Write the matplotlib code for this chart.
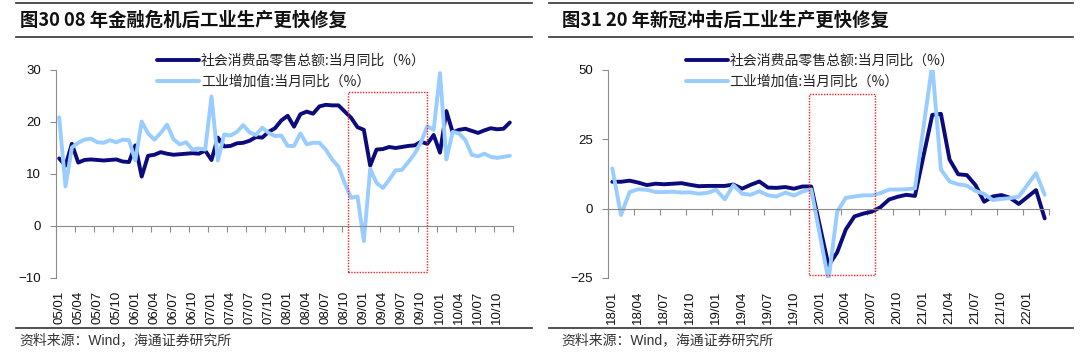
import numpy as np
import matplotlib
matplotlib.use('Agg')
import matplotlib.pyplot as plt
from matplotlib.patches import Rectangle
from matplotlib.lines import Line2D

plt.rcParams['font.family'] = ['Liberation Sans', 'Noto Sans CJK SC']

nan = np.nan

# fig 30: monthly 2005/01 - 2010/12, % yoy
left_retail = [13.0, 11.6, 15.8, 12.2, 12.7, 12.8, 12.7, 12.6, 12.7, 12.8, 12.4, 12.3,
               15.5, 9.5, 13.5, 13.7, 14.2, 13.9, 13.7, 13.8, 13.9, 14.0, 13.9, 14.5,
               12.7, 17.0, 15.3, 15.4, 15.9, 16.0, 16.4, 17.1, 17.0, 18.1, 18.8, 20.3,
               21.2, 19.1, 21.5, 22.0, 21.6, 23.0, 23.3, 23.2, 23.2, 22.0, 20.8, 19.0,
               18.5, 11.6, 14.7, 14.8, 15.2, 15.0, 15.2, 15.4, 15.5, 16.2, 15.8, 17.5,
               14.1, 22.1, 18.0, 18.5, 18.7, 18.3, 17.9, 18.4, 18.8, 18.6, 18.7, 19.9]
left_iva = [20.9, 7.6, 15.1, 16.0, 16.6, 16.8, 16.1, 16.0, 16.5, 16.1, 16.6, 16.5,
            12.6, 20.1, 17.8, 16.6, 17.9, 19.5, 16.7, 15.7, 16.1, 14.7, 14.9, 14.7,
            24.9, 12.6, 17.6, 17.4, 18.1, 19.4, 18.0, 17.5, 18.9, 17.9, 17.3, 17.4,
            15.4, 15.4, 17.8, 15.7, 16.0, 16.0, 14.7, 12.8, 11.4, 8.2, 5.4, 5.7,
            -2.9, 11.0, 8.3, 7.3, 8.9, 10.7, 10.8, 12.3, 13.9, 16.1, 19.2, 18.5,
            29.4, 12.8, 18.1, 17.8, 16.5, 13.7, 13.4, 13.9, 13.3, 13.1, 13.3, 13.5]
left_ticklabels = ['05/01', '05/04', '05/07', '05/10', '06/01', '06/04', '06/07', '06/10',
                   '07/01', '07/04', '07/07', '07/10', '08/01', '08/04', '08/07', '08/10',
                   '09/01', '09/04', '09/07', '09/10', '10/01', '10/04', '10/07', '10/10']

# fig 31: monthly 2018/01 - 2022/03, nan = January not published
right_retail = [9.7, 9.7, 10.1, 9.4, 8.5, 9.0, 8.8, 9.0, 9.2, 8.6, 8.1, 8.2,
                nan, 8.2, 8.7, 7.2, 8.6, 9.8, 7.6, 7.5, 7.8, 7.2, 8.0, 8.0,
                nan, -20.5, -15.8, -7.5, -2.8, -1.8, -1.1, 0.5, 3.3, 4.3, 5.0, 4.6,
                nan, 33.8, 34.2, 17.7, 12.4, 12.1, 8.5, 2.5, 4.4, 4.9, 3.9, 1.7,
                nan, 6.7, -3.5]
right_iva = [14.5, -2.3, 6.0, 7.0, 6.8, 6.0, 6.0, 6.1, 5.8, 5.9, 5.4, 5.7,
             6.8, 3.4, 8.5, 5.4, 5.0, 6.3, 4.8, 4.4, 5.8, 4.7, 6.2, 6.9,
             nan, -25.9, -1.1, 3.9, 4.4, 4.8, 4.8, 5.6, 6.9, 6.9, 7.0, 7.3,
             nan, 52.0, 14.1, 9.8, 8.8, 8.3, 6.4, 5.3, 3.1, 3.5, 3.8, 4.3,
             nan, 12.8, 5.0]
right_ticklabels = ['18/01', '18/04', '18/07', '18/10', '19/01', '19/04', '19/07', '19/10',
                    '20/01', '20/04', '20/07', '20/10', '21/01', '21/04', '21/07', '21/10',
                    '22/01']

label_retail = '社会消费品零售总额:当月同比（%）'
label_iva = '工业增加值:当月同比（%）'

DARK = '#0B0B7C'
LIGHT = '#99CCFF'
GRAY = '#8C8C8C'
CJK = ['Noto Sans CJK SC', 'DejaVu Sans']

W, H = 1080, 361
fig = plt.figure(figsize=(W / 100, H / 100), dpi=100)


def box(x0, y0, x1, y1):
    # pixel box (from top-left) -> figure fraction
    return [x0 / W, 1 - y1 / H, (x1 - x0) / W, (y1 - y0) / H]


def draw_panel(ax, retail, iva, ticklabels, ylim, yticks, redbox):
    r = np.array(retail)
    v = np.array(iva)
    x = np.arange(len(r))
    ok = ~np.isnan(r)
    ax.plot(x[ok], r[ok], color=DARK, lw=2.8, label=label_retail,
            solid_joinstyle='round', solid_capstyle='round')
    ok = ~np.isnan(v)
    ax.plot(x[ok], v[ok], color=LIGHT, lw=2.8, label=label_iva,
            solid_joinstyle='round', solid_capstyle='round')

    n = len(r)
    ax.set_xlim(-0.5, n - 0.5)
    ax.set_ylim(*ylim)
    ax.set_yticks(yticks)
    ax.tick_params(axis='y', direction='out', length=4, width=0.8, color=GRAY,
                   labelsize=9.5, pad=7, labelcolor='#111111')

    for s in ['top', 'right']:
        ax.spines[s].set_visible(False)
    ax.spines['left'].set_color(GRAY)
    ax.spines['left'].set_linewidth(0.8)
    ax.spines['bottom'].set_position(('data', 0))
    ax.spines['bottom'].set_color(GRAY)
    ax.spines['bottom'].set_linewidth(0.8)
    ax.set_xticks(np.arange(-0.5, n, 3))
    ax.tick_params(axis='x', direction='out', length=4, width=0.8, color=GRAY,
                   labelbottom=False)

    sec = ax.secondary_xaxis('bottom')
    sec.set_xticks(np.arange(0, 3 * len(ticklabels), 3), ticklabels, rotation=90)
    sec.tick_params(length=0, pad=9, labelsize=9.5, labelcolor='#111111')
    sec.spines['bottom'].set_visible(False)

    (bx0, by0), (bx1, by1) = redbox
    ax.add_patch(Rectangle((bx0, by0), bx1 - bx0, by1 - by0, fill=False,
                           ec='#FF2020', lw=1.0, ls=(0, (1, 1)), zorder=5))


axl = fig.add_axes(box(56, 70, 513, 278))
draw_panel(axl, left_retail, left_iva, left_ticklabels, (-10, 30), [-10, 0, 10, 20, 30],
           ((45.5, -8.9), (57.9, 25.8)))
axr = fig.add_axes(box(608, 70, 1049, 278))
draw_panel(axr, right_retail, right_iva, right_ticklabels, (-25, 50), [-25, 0, 25, 50],
           ((22.7, -24.0), (30.4, 41.4)))

for ax, lx in [(axl, 157), (axr, 686)]:
    ax.legend(loc='upper left', bbox_to_anchor=(lx / W, 1 - 54 / H),
              bbox_transform=fig.transFigure, frameon=False, borderpad=0,
              borderaxespad=0, handlelength=3.0, handletextpad=0.15,
              labelspacing=0.5, prop={'family': CJK, 'size': 10},
              labelcolor='#222222')

# header / footer rules and text
for x0, x1 in [(15.5, 531.7), (549.3, 1073)]:
    for y, lw in [(2.7, 1.2), (36.7, 1.2), (328.3, 1.2)]:
        fig.add_artist(Line2D([x0 / W, x1 / W], [1 - y / H, 1 - y / H],
                              color='#333333', lw=lw))

fig.text(20.5 / W, 1 - 20.5 / H, '图30 08 年金融危机后工业生产更快修复',
         family=CJK, weight='bold', fontsize=13.2, va='center', ha='left', color='#111111')
fig.text(561.7 / W, 1 - 20.5 / H, '图31 20 年新冠冲击后工业生产更快修复',
         family=CJK, weight='bold', fontsize=13.2, va='center', ha='left', color='#111111')

for fx in [19, 561.7]:
    fig.text(fx / W, 1 - 340.5 / H, '资料来源：Wind，海通证券研究所',
             family=['Liberation Sans', 'Noto Sans CJK SC'], fontsize=10,
             va='center', ha='left', color='#333333')

fig.savefig('out.png', dpi=100)
